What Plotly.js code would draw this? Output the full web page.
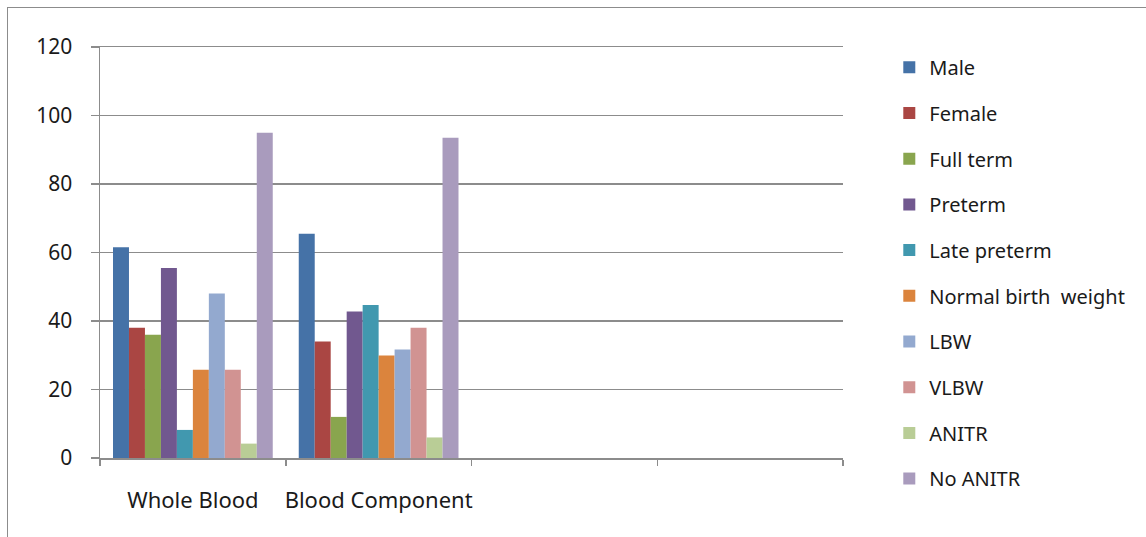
<!DOCTYPE html>
<html>
<head>
<meta charset="utf-8">
<script src="https://cdn.plot.ly/plotly-3.0.1.min.js"></script>
<style>
html,body{margin:0;padding:0;background:#fff;}
#frame{position:absolute;left:7px;top:7px;width:1150px;height:540px;border:1px solid #8c8c8c;box-sizing:border-box;}
#chart{position:absolute;left:0;top:0;width:1146px;height:537px;}
</style>
</head>
<body>
<div id="frame"></div>
<div id="chart"></div>
<script>
const categories = ["Whole Blood", "Blood Component", " ", "  "];
const seriesNames = ["Male", "Female", "Full term", "Preterm", "Late preterm", "Normal birth  weight", "LBW", "VLBW", "ANITR", "No ANITR"];
const male        = [61.5, 65.5, null, null];
const female      = [38, 34, null, null];
const fullTerm    = [36, 12, null, null];
const preterm     = [55.5, 42.8, null, null];
const latePreterm = [8.2, 44.7, null, null];
const normalBW    = [25.8, 29.9, null, null];
const lbw         = [48, 31.7, null, null];
const vlbw        = [25.8, 38, null, null];
const anitr       = [4.2, 6, null, null];
const noAnitr     = [95, 93.5, null, null];
const seriesValues = [male, female, fullTerm, preterm, latePreterm, normalBW, lbw, vlbw, anitr, noAnitr];
const colors = ["#4572A7", "#AA4643", "#89A54E", "#71588F", "#4198AF", "#DB843D", "#93A9CF", "#D19392", "#B9CD96", "#A99BBD"];

const font = "Noto Sans, Open Sans, sans-serif";
const textColor = "#1a1a1a";
const traces = seriesNames.map((n, i) => ({
  type: "bar",
  name: n,
  x: categories,
  y: seriesValues[i],
  legendgroup: "g" + i,
  marker: {color: colors[i], line: {width: 0}},
  hoverinfo: "y+name"
}));

const layout = {
  width: 1146, height: 537,
  margin: {l: 100, r: 303, t: 47, b: 79},
  paper_bgcolor: "rgba(0,0,0,0)",
  plot_bgcolor: "rgba(0,0,0,0)",
  barmode: "group",
  bargap: 0.14,
  bargroupgap: 0,
  font: {family: font, size: 20, color: textColor},
  showlegend: true,
  legend: {
    xref: "container", yref: "container",
    x: 0.776, y: 0.911, xanchor: "left", yanchor: "top",
    font: {family: font, size: 20, color: textColor},
    tracegroupgap: 16.7,
    maxheight: 700,
    bgcolor: "rgba(0,0,0,0)",
    itemwidth: 30
  },
  xaxis: {
    type: "category",
    categoryorder: "array",
    categoryarray: categories,
    range: [-0.5, 3.5],
    tickson: "boundaries",
    tickangle: 0,
    ticks: "outside", ticklen: 6, tickcolor: "#8c8c8c", tickwidth: 1.5,
    showline: true, mirror: true, linecolor: "#8c8c8c", linewidth: 1.5,
    showgrid: false, zeroline: false,
    ticklabelstandoff: 22,
    tickfont: {family: font, size: 22, color: textColor},
    fixedrange: true
  },
  yaxis: {
    range: [0, 120],
    tickvals: [0, 20, 40, 60, 80, 100, 120],
    ticks: "outside", ticklen: 8, tickcolor: "#8c8c8c", tickwidth: 1.5,
    showline: true, linecolor: "#8c8c8c", linewidth: 1.5,
    showgrid: true, gridcolor: "#8c8c8c", gridwidth: 1.5,
    zeroline: false,
    ticklabelstandoff: 14,
    tickfont: {family: font, size: 21, color: textColor},
    fixedrange: true
  }
};

Plotly.newPlot("chart", traces, layout, {displayModeBar: false, staticPlot: true});
</script>
</body>
</html>
